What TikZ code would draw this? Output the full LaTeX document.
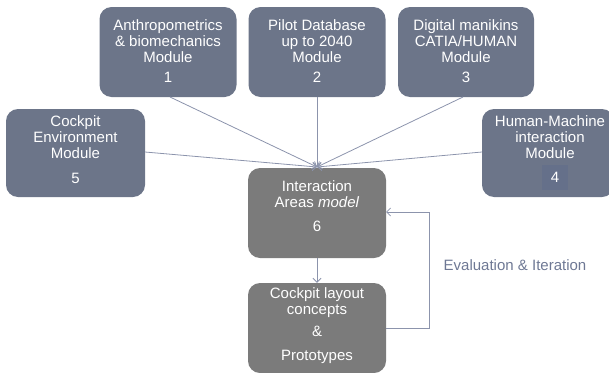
\documentclass[tikz,border=0pt]{standalone}
\usepackage{fontspec}
\setmainfont{Liberation Sans}
\usetikzlibrary{arrows.meta}
\definecolor{modfill}{HTML}{6C7589}
\definecolor{grayfill}{HTML}{7B7B7B}
\definecolor{linec}{HTML}{8C94AC}
\definecolor{labc}{HTML}{6E7894}
\definecolor{numbg}{HTML}{65708A}
\tikzset{
  x=1pt,y=1pt,
  modbox/.style={draw=none,fill=modfill,rounded corners=12pt,minimum width=#1,minimum height=90pt,inner sep=0pt},
  graybox/.style={draw=none,fill=grayfill,rounded corners=12pt,minimum width=138pt,minimum height=90pt,inner sep=0pt},
  boxtext/.style={text=white,align=center,font=\fontsize{15}{16}\selectfont,inner sep=0pt},
  conn/.style={draw=linec,line width=0.8pt,-{Straight Barb[length=4pt,width=8pt]}},
  plain/.style={draw=linec,line width=0.8pt}
}
\begin{document}
\begin{tikzpicture}
\useasboundingbox (0,0) rectangle (609,-372);
% module boxes
\node[modbox=137pt] (m1) at (168,-52) {};
\node[modbox=137pt] (m2) at (317,-52) {};
\node[modbox=136pt] (m3) at (466,-52) {};
\node[modbox=139pt,minimum height=88pt] (m5) at (75.5,-153) {};
\node[modbox=132pt,minimum height=88pt] (m4) at (548,-153) {};
\node[graybox] (m6) at (317,-213) {};
\node[graybox,minimum height=90pt] (m7) at (317,-328) {};
\node[fill=numbg,minimum width=26pt,minimum height=25pt,inner sep=0pt] (n4bg) at (555,-177.5) {};
% texts
\node[boxtext] (t1) at (168,-51) {Anthropometrics\\ \& biomechanics\\ Module\\[4pt] 1};
\node[boxtext] (t2) at (317,-51) {Pilot Database\\ up to 2040\\ Module\\[4pt] 2};
\node[boxtext] (t3) at (466,-51) {Digital manikins\\ CATIA/HUMAN\\ Module\\[4pt] 3};
\node[boxtext] (t5) at (75.5,-149.5) {Cockpit\\ Environment\\ Module\\[9pt] 5};
\node[boxtext] (t4) at (550,-149.5) {Human-Machine\\ interaction\\ Module\\[8pt] \hspace*{10pt}4};
\node[boxtext] (t6) at (317,-206) {Interaction\\ Areas \textit{model}\\[8pt] 6};
\node[boxtext] (t7) at (317,-326) {Cockpit layout\\ concepts\\[6pt] \&\\[8pt] Prototypes};
\node[text=labc,font=\fontsize{15}{16}\selectfont,inner sep=0pt] (lab) at (515,-265) {Evaluation \& Iteration};
% connectors
\coordinate (c1) at (170,-97);
\coordinate (c3) at (463,-97);
\coordinate (c5) at (145,-152);
\coordinate (c4) at (482,-152);
\coordinate (tip) at (317,-167);
\draw[conn] (c1) -- (tip);
\draw[conn] (m2.south) -- (tip);
\draw[conn] (c3) -- (tip);
\draw[conn] (c5) -- (tip);
\draw[conn] (c4) -- (tip);
\draw[conn] (m6.south) -- (m7.north);
\coordinate (f1) at (386,-328);
\coordinate (f2) at (429,-328);
\coordinate (f3) at (429,-212);
\coordinate (f4) at (386,-212);
\draw[conn] (f1) -- (f2) -- (f3) -- (f4);
\end{tikzpicture}
\end{document}
